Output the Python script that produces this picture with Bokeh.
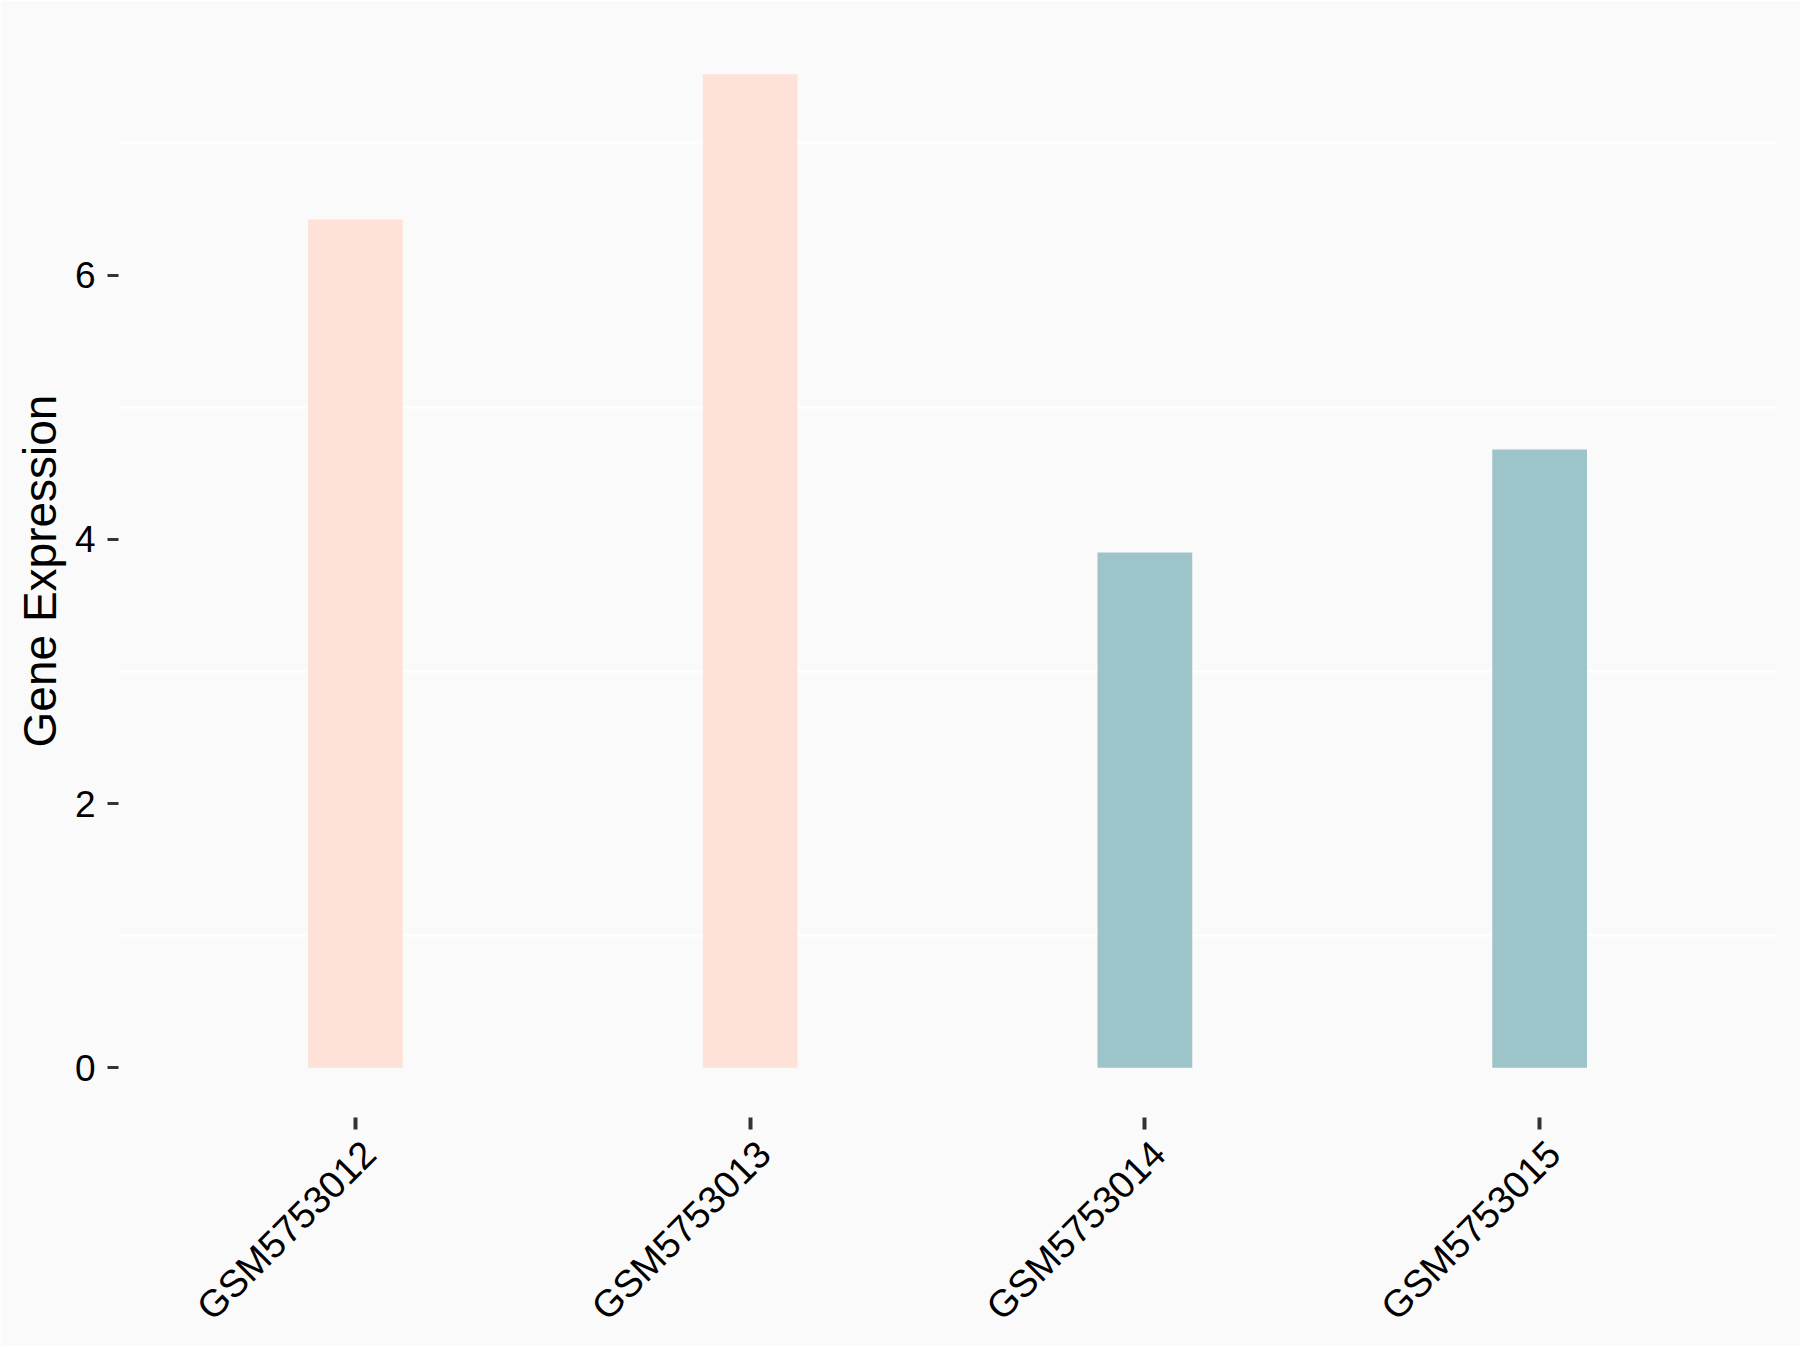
import math
from bokeh.plotting import figure
from bokeh.models import Range1d, FixedTicker, ColumnDataSource, LinearAxis
from bokeh.embed import file_html
from bokeh.resources import INLINE

# ---- data ----
samples = ["GSM5753012", "GSM5753013", "GSM5753014", "GSM5753015"]
expression = [6.42, 7.52, 3.90, 4.68]
groups = ["A", "A", "B", "B"]
group_colors = {"A": "#FEE1D7", "B": "#9DC4C8"}
y_ticks = [0, 2, 4, 6]
grid_lines = [1, 3, 5, 7]

positions = list(range(1, len(samples) + 1))
colors = [group_colors[g] for g in groups]
src = ColumnDataSource(dict(x=positions, top=expression, color=colors, name=samples))

ymax = max(expression)
pad = ymax * 0.05

FRAME_W, FRAME_H = 1658, 1093
x_start, x_end = 0.4, len(samples) + 0.6

p = figure(frame_width=FRAME_W, frame_height=FRAME_H,
           output_backend="svg", toolbar_location=None,
           x_range=Range1d(x_start, x_end),
           y_range=Range1d(-pad, ymax + pad),
           min_border_left=118, min_border_right=24, min_border_top=24, min_border_bottom=10,
           background_fill_color="#FAFAFA", border_fill_color="#FAFAFA")
p.outline_line_color = None

# grid: only white lines at odd values
p.xgrid.visible = False
p.ygrid.ticker = FixedTicker(ticks=grid_lines)
p.ygrid.grid_line_color = "white"
p.ygrid.grid_line_width = 2

p.vbar(x="x", top="top", bottom=0, width=0.24, color="color", line_color=None, source=src)

FONT = "Liberation Sans"

# x axis 1: tick marks only
xa = p.xaxis[0]
xa.ticker = FixedTicker(ticks=positions)
xa.major_label_overrides = {pos: "" for pos in positions}
xa.major_label_text_font_size = "0px"
xa.major_label_standoff = 0
xa.axis_line_color = None
xa.major_tick_in = 0
xa.major_tick_out = 12
xa.major_tick_line_color = "#333333"
xa.major_tick_line_width = 4
xa.minor_tick_line_color = None

# x axis 2: rotated labels, nudged right like ggplot's hjust=1/vjust=1 anchoring
label_dx_px = 14
dx = label_dx_px * (x_end - x_start) / FRAME_W
p.extra_x_ranges = {"labels": Range1d(x_start - dx, x_end - dx)}
xl = LinearAxis(x_range_name="labels", ticker=FixedTicker(ticks=positions))
xl.major_label_overrides = {pos: s for pos, s in zip(positions, samples)}
xl.major_label_orientation = math.pi / 4
xl.axis_line_color = None
xl.major_tick_in = 0
xl.major_tick_out = 0
xl.major_tick_line_color = None
xl.minor_tick_line_color = None
xl.major_label_standoff = 18
xl.major_label_text_font = FONT
xl.major_label_text_font_size = "38px"
xl.major_label_text_color = "black"
p.add_layout(xl, "below")

# y axis
ya = p.yaxis[0]
ya.ticker = FixedTicker(ticks=y_ticks)
ya.axis_line_color = None
ya.major_tick_in = 0
ya.major_tick_out = 11
ya.major_tick_line_color = "#333333"
ya.major_tick_line_width = 3
ya.minor_tick_line_color = None
ya.major_label_text_font = FONT
ya.major_label_text_font_size = "37px"
ya.major_label_text_color = "black"
ya.major_label_standoff = 12
ya.axis_label = "Gene Expression"
ya.axis_label_text_font = FONT
ya.axis_label_text_font_size = "46px"
ya.axis_label_text_font_style = "normal"
ya.axis_label_text_color = "black"
ya.axis_label_standoff = 6

open("out.html", "w").write(file_html(p, INLINE))
